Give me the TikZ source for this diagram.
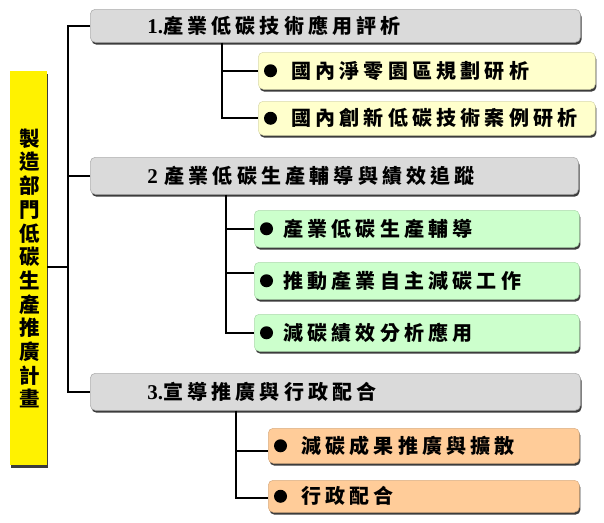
\documentclass[tikz,border=0pt]{standalone}
\usepackage{fontspec}
\setmainfont{Liberation Serif}
\newfontfamily\cjk[LetterSpace=21]{Noto Sans CJK TC}
\newfontfamily\cjkv{Noto Sans CJK TC}
\usetikzlibrary{shadows,calc}
\definecolor{greyfill}{HTML}{DADADA}
\definecolor{greyline}{HTML}{B0B0B0}
\definecolor{creamfill}{HTML}{FFFFCC}
\definecolor{greenfill}{HTML}{CCFFCC}
\definecolor{orangefill}{HTML}{FFCC99}
\definecolor{shadowc}{HTML}{3C3C3C}
\tikzset{
  shad/.style={drop shadow={shadow xshift=1.2pt, shadow yshift=-2.4pt, fill=shadowc, opacity=1}},
  boxbase/.style={rounded corners=5pt, shad, anchor=north west, inner xsep=0pt, inner ysep=0pt,
    align=left, font=\fontsize{20}{22}\selectfont\cjk\bfseries},
  lvlone/.style={boxbase, fill=greyfill, draw=greyline, line width=0.6pt},
  cream/.style={boxbase, fill=creamfill, draw=creamfill!85!black, line width=0.5pt},
  green/.style={boxbase, fill=greenfill, draw=greenfill!85!black, line width=0.5pt},
  orange/.style={boxbase, fill=orangefill, draw=orangefill!85!black, line width=0.5pt},
  conn/.style={line width=1.6pt, black},
  bul/.style={fill=black},
}
\newcommand{\num}[1]{{\fontspec{Liberation Serif}\fontsize{21}{22}\selectfont\bfseries #1}}
\begin{document}
\begin{tikzpicture}[x=1pt,y=-1pt]
\useasboundingbox (0,0) rectangle (604,522);
% root
\node[shad, fill=yellow, anchor=north west, minimum width=37pt, minimum height=394pt, inner sep=0pt] (root) at (10,71) {};
\node[align=center, font=\fontsize{20.5}{23.7}\selectfont\cjkv\bfseries, inner sep=0pt] (roottxt) at (29.5,268.5)
  {製\\造\\部\\門\\低\\碳\\生\\產\\推\\廣\\計\\畫};
% level one
\node[lvlone, text width=490pt, minimum height=33pt] (b1) at (90,9) {\hspace*{57pt}\num{1.}產業低碳技術應用評析};
\node[lvlone, text width=488pt, minimum height=37pt] (b2) at (90,157) {\hspace*{57pt}\num{2} 產業低碳生產輔導與績效追蹤};
\node[lvlone, text width=490pt, minimum height=37pt] (b3) at (90,373) {\hspace*{57pt}\num{3.}宣導推廣與行政配合};
% level two
\node[cream, text width=337pt, minimum height=37pt] (c1) at (258,52) {\hspace*{33pt}國內淨零園區規劃研析};
\node[cream, text width=337pt, minimum height=34pt] (c2) at (258,101) {\hspace*{33pt}國內創新低碳技術案例研析};
\node[green, text width=325pt, minimum height=37pt] (g1) at (254,210) {\hspace*{29pt}產業低碳生產輔導};
\node[green, text width=325pt, minimum height=37pt] (g2) at (254,262) {\hspace*{29pt}推動產業自主減碳工作};
\node[green, text width=325pt, minimum height=37pt] (g3) at (254,314) {\hspace*{29pt}減碳績效分析應用};
\node[orange, text width=311pt, minimum height=35pt] (o1) at (268,428) {\hspace*{33pt}減碳成果推廣與擴散};
\node[orange, text width=311pt, minimum height=32pt] (o2) at (268,480) {\hspace*{33pt}行政配合};
% bullets
\foreach \n in {c1,c2,g1,g2,g3,o1,o2} { \fill[bul] ($(\n.west)+(12.5,0)$) circle (6.5pt); }
% trunk
\coordinate (tr) at (68,267);
\draw[conn] (root.east |- tr) -- (tr);
\draw[conn] (b1.west) -- (b1.west -| tr) -- (b3.west -| tr) -- (b3.west);
\draw[conn] (b2.west) -- (b2.west -| tr);
% branch 1
\coordinate (v1) at (222,0);
\draw[conn] (b1.south -| v1) -- (c2.west -| v1) -- (c2.west);
\draw[conn] (c1.west -| v1) -- (c1.west);
% branch 2
\coordinate (v2) at (226,0);
\draw[conn] (b2.south -| v2) -- (g3.west -| v2) -- (g3.west);
\draw[conn] (g1.west -| v2) -- (g1.west);
\draw[conn] ([yshift=8pt]g2.west -| v2) -- ([yshift=8pt]g2.west);
% branch 3
\coordinate (v3) at (236,0);
\draw[conn] (b3.south -| v3) -- ([yshift=-1.5pt]o2.west -| v3) -- ([yshift=-1.5pt]o2.west);
\draw[conn] ([yshift=-5.5pt]o1.west -| v3) -- ([yshift=-5.5pt]o1.west);
\end{tikzpicture}
\end{document}
